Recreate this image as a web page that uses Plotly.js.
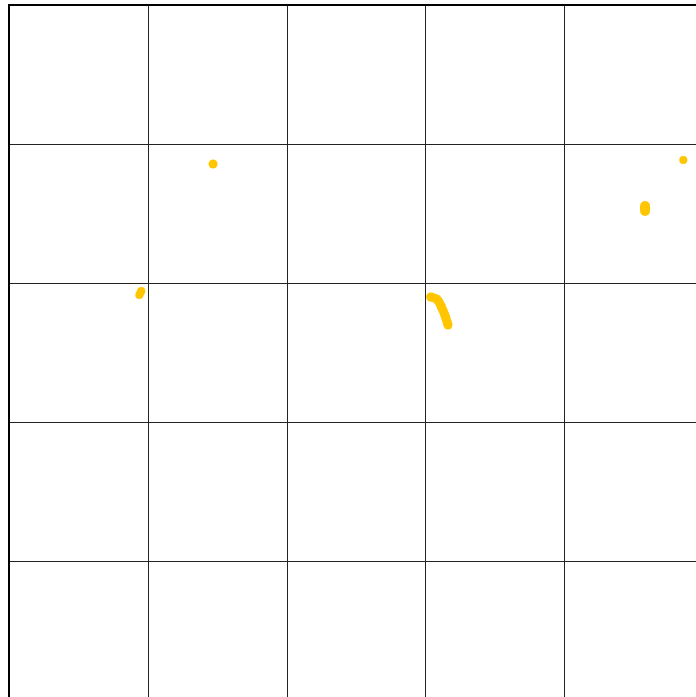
<!DOCTYPE html>
<html>
<head>
<meta charset="utf-8">
<script src="https://cdn.plot.ly/plotly-3.0.1.min.js"></script>
<style>html,body{margin:0;padding:0;background:#fff;}#chart{width:696px;height:697px;}</style>
</head>
<body>
<div id="chart"></div>
<script>
// Yellow ink marks, in grid-cell units (x to the right, y downward)
const dotX = [1.465, 4.858];
const dotY = [1.139, 1.110];
const dotSize = [9, 8];

const blobAX = [4.582, 4.582];
const blobAY = [1.441, 1.477];

const blobBX = [0.947, 0.933];
const blobBY = [2.054, 2.083];

const curveX = [3.035, 3.080, 3.113, 3.140, 3.160];
const curveY = [2.097, 2.114, 2.169, 2.234, 2.299];

const ink = '#FFC600';

function stroke(x, y, w) {
  return {
    type: 'scatter', mode: 'lines+markers', x: x, y: y,
    line: {color: ink, width: w, shape: 'spline'},
    marker: {color: ink, size: w, opacity: 1, line: {width: 0}},
    hoverinfo: 'skip', showlegend: false
  };
}

const traces = [
  {type: 'scatter', mode: 'markers', x: dotX, y: dotY,
   marker: {color: ink, size: dotSize, opacity: 1, line: {width: 0}}, hoverinfo: 'skip', showlegend: false},
  stroke(blobAX, blobAY, 10),
  stroke(blobBX, blobBY, 8),
  stroke(curveX, curveY, 9)
];

const layout = {
  width: 696, height: 697,
  margin: {l: 10, t: 6, r: 0, b: 0, pad: 0},
  paper_bgcolor: '#fff', plot_bgcolor: '#fff',
  xaxis: {range: [0, 686/138.6], dtick: 1, tick0: 0, showgrid: true, gridcolor: '#222', gridwidth: 1,
          zeroline: false, showticklabels: false, ticks: '', side: 'top',
          showline: true, linecolor: '#000', linewidth: 2},
  yaxis: {range: [691/138.75, 0], dtick: 1, tick0: 0, showgrid: true, gridcolor: '#222', gridwidth: 1,
          zeroline: false, showticklabels: false, ticks: '',
          showline: true, linecolor: '#000', linewidth: 2},
  showlegend: false
};

Plotly.newPlot('chart', traces, layout, {staticPlot: true, displayModeBar: false});
</script>
</body>
</html>
